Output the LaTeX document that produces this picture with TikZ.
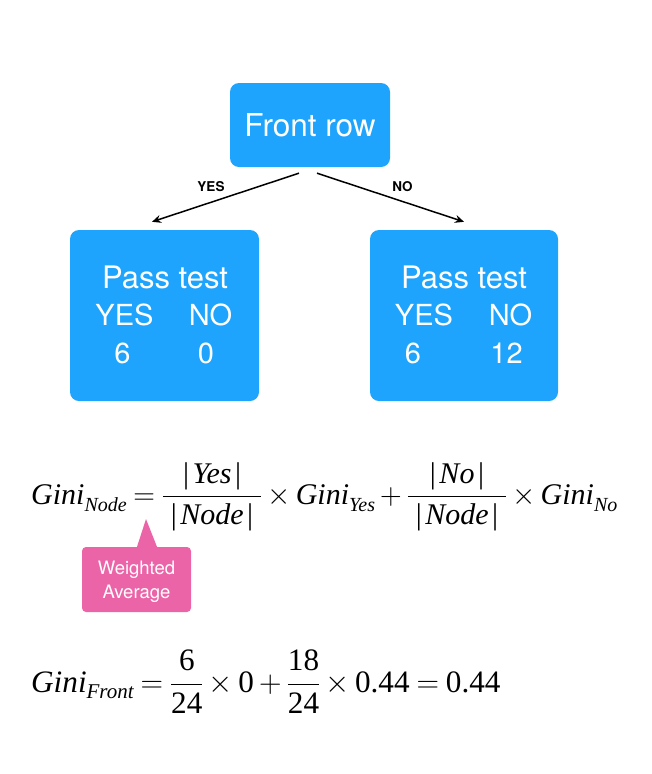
\RequirePackage{fix-cm}
\documentclass[tikz,border=0pt]{standalone}
\usepackage{fontspec}
\setmainfont{Liberation Serif}
\newfontfamily\sansf{TeX Gyre Heros}
\usetikzlibrary{arrows.meta,calc}
\definecolor{boxblue}{RGB}{30,164,252}
\definecolor{callpink}{RGB}{236,100,168}
\newcommand{\gsub}[3]{\raisebox{-#2}{\fontsize{#3}{#3}\selectfont\itshape #1}}
\newcommand{\tabs}[1]{\mbox{|\kern3.5pt\textit{#1}\kern3.5pt|}}
\newcommand{\mathspacing}{\medmuskip=3mu plus 2mu minus 3mu\thickmuskip=4mu plus 2mu}
\begin{document}
\begin{tikzpicture}[x=1pt,y=-1pt,
  bluebox/.style={fill=boxblue, rounded corners=9pt, draw=none, inner sep=0pt},
  boxtext/.style={text=white, font=\sansf\fontsize{29}{34}\selectfont, inner sep=0pt, anchor=base},
  passtext/.style={boxtext, font=\sansf\fontsize{31}{36}\selectfont},
  toptext/.style={text=white, font=\sansf\fontsize{31.5}{36}\selectfont, inner sep=0pt, anchor=base},
  edgelabel/.style={font=\sansf\bfseries\fontsize{13.5}{16}\selectfont, inner sep=0pt, anchor=base},
  conn/.style={line width=1.5pt, -{Stealth[length=9pt,width=8pt]}},
  formula/.style={inner sep=0pt, anchor=base west, font=\fontsize{30}{36}\selectfont\mathspacing},
  callbox/.style={fill=callpink, rounded corners=4pt, draw=none, inner sep=0pt},
  calltext/.style={text=white, font=\sansf\fontsize{18.5}{22}\selectfont, inner sep=0pt, anchor=base}
]
\useasboundingbox (0,0) rectangle (652,774);
% boxes
\node[bluebox, minimum width=160pt, minimum height=84pt] (top) at (310,125) {};
\node[bluebox, minimum width=189pt, minimum height=171pt] (L) at (164.5,315.5) {};
\node[bluebox, minimum width=188pt, minimum height=171pt] (R) at (464,315.5) {};
% texts
\node[toptext] (ttop) at (310,136) {Front row};
\node[passtext] (lpass) at (165,288) {Pass test};
\node[boxtext] (lyes) at (124.5,325) {YES};
\node[boxtext] (lno) at (210.5,325) {NO};
\node[boxtext] (lsix) at (122.5,363) {6};
\node[boxtext] (lzero) at (206,363) {0};
\node[passtext] (rpass) at (464,288) {Pass test};
\node[boxtext] (ryes) at (424,325) {YES};
\node[boxtext] (rno) at (510.5,325) {NO};
\node[boxtext] (rsix) at (413,363) {6};
\node[boxtext] (rtwelve) at (506.5,363) {12};
% connectors
\draw[conn] ([shift={(-11,6)}]top.south) -- ([shift={(-12.5,-8)}]L.north);
\draw[conn] ([shift={(7,6)}]top.south) -- ([shift={(0,-8)}]R.north);
\node[edgelabel] (yeslab) at (211,191.5) {YES};
\node[edgelabel] (nolab) at (402.5,191.5) {NO};
% formula 1
\node[formula] (f1) at (31,504) {$\displaystyle \mbox{\textit{Gini}\gsub{Node}{7.5pt}{20}} = \frac{\tabs{Yes}}{\kern8pt\tabs{Node}\kern8pt}\times \mbox{\textit{Gini}\gsub{Yes}{7.5pt}{20}} + \frac{\tabs{No}}{\kern8pt\tabs{Node}\kern8pt}\times \mbox{\textit{Gini}\gsub{No}{7.5pt}{20}}$};
% callout
\node[callbox, minimum width=109pt, minimum height=65pt] (call) at (136.5,579.5) {};
\coordinate (tip) at (146,519);
\fill[callpink] ([xshift=0.5pt]call.north) -- (tip) -- ([xshift=20.5pt]call.north) -- cycle;
\node[calltext] (cw) at (136.5,574) {Weighted};
\node[calltext] (ca) at (136.5,598) {Average};
% formula 2
\node[formula, font=\fontsize{31.2}{38}\selectfont\mathspacing] (f2) at (31,692) {$\displaystyle \mbox{\textit{Gini}\gsub{Front}{6.5pt}{21}} = \frac{\mbox{6}}{\mbox{24}}\times \mbox{0} + \frac{\mbox{18}}{\mbox{24}}\times \mbox{0.44} = \mbox{0.44}$};
\end{tikzpicture}
\end{document}
